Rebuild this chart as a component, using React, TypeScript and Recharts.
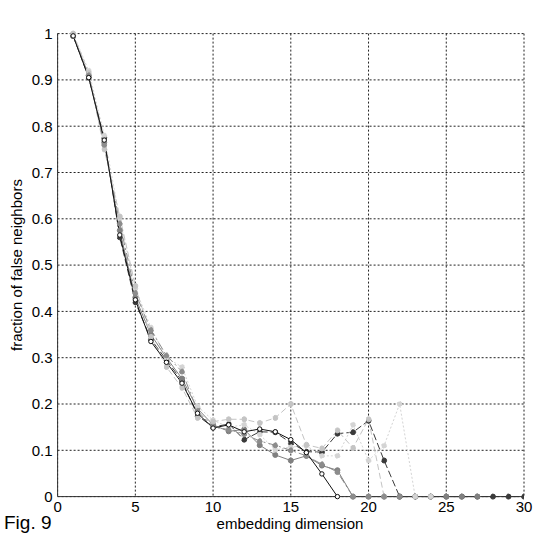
import React from 'react';
import { LineChart, Line, XAxis, YAxis, CartesianGrid, Label } from 'recharts';

const dims = [1, 2, 3, 4, 5, 6, 7, 8, 9, 10, 11, 12, 13, 14, 15, 16, 17, 18, 19, 20, 21, 22, 23, 24, 25, 26, 27, 28, 29, 30];
const xTicks = [0, 5, 10, 15, 20, 25, 30];
const yTicks = [0, 0.1, 0.2, 0.3, 0.4, 0.5, 0.6, 0.7, 0.8, 0.9, 1];

const seriesBlack = [0.995, 0.905, 0.77, 0.565, 0.425, 0.335, 0.29, 0.245, 0.18, 0.148, 0.155, 0.14, 0.146, 0.14, 0.123, 0.095, 0.049, 0];
const seriesDark = [0.995, 0.905, 0.775, 0.56, 0.42, 0.34, 0.295, 0.25, 0.175, 0.15, 0.157, 0.123, 0.14, 0.139, 0.116, 0.097, 0.096, 0.136, 0.139, 0.164, 0.078, 0, 0, 0, 0, 0, 0, 0, 0, 0];
const seriesGray = [0.995, 0.91, 0.765, 0.575, 0.43, 0.35, 0.3, 0.255, 0.19, 0.155, 0.141, 0.145, 0.111, 0.09, 0.078, 0.088, 0.067, 0.057, 0, 0, 0, 0, 0, 0, 0, 0, 0];
const seriesMid = [0.995, 0.91, 0.76, 0.59, 0.44, 0.36, 0.305, 0.27, 0.185, 0.15, 0.145, 0.135, 0.12, 0.111, 0.1, 0.088, 0.07, 0.053, 0, 0, 0, 0];
const seriesLight = [1.0, 0.915, 0.75, 0.605, 0.455, 0.345, 0.28, 0.235, 0.17, 0.162, 0.167, 0.167, 0.159, 0.17, 0.2, 0.112, 0.104, 0.143, 0.105, 0.167, 0];
const seriesPale = [1.0, 0.92, 0.78, 0.6, 0.45, 0.365, 0.3, 0.28, 0.195, 0.165, 0.15, 0.155, 0.134, 0.101, 0.107, 0.11, 0.088, 0.088, 0.155, 0.078, 0.11, 0.2, 0, 0];

const data = dims.map((d, i) => ({
  dim: d,
  black: i < seriesBlack.length ? seriesBlack[i] : null,
  dark: i < seriesDark.length ? seriesDark[i] : null,
  gray: i < seriesGray.length ? seriesGray[i] : null,
  mid: i < seriesMid.length ? seriesMid[i] : null,
  light: i < seriesLight.length ? seriesLight[i] : null,
  pale: i < seriesPale.length ? seriesPale[i] : null,
}));

const FONT = '"Liberation Sans", Arial, Helvetica, sans-serif';
const tickStyle = { fontSize: 15, fill: '#000', fontFamily: FONT };

export default function App() {
  return (
    <div style={{ position: 'absolute', left: 0, top: 0, width: 536, height: 536, background: '#fff' }}>
      <LineChart
        width={536}
        height={536}
        data={data}
        margin={{ top: 33.6, right: 12, bottom: 9.4, left: 12.6 }}
        style={{ fontFamily: FONT }}
      >
        <CartesianGrid strokeDasharray="2 2" stroke="#222" strokeWidth={1} />
        <XAxis
          dataKey="dim"
          type="number"
          domain={[0, 30]}
          ticks={xTicks}
          allowDataOverflow
          height={30}
          tickLine={false}
          tickSize={0}
          tickMargin={5}
          axisLine={{ stroke: '#333' }}
          tick={tickStyle}
        >
          <Label
            content={() => (
              <text x={290} y={529} textAnchor="middle" fontSize={15} fontFamily={FONT} fill="#000">
                embedding dimension
              </text>
            )}
          />
          <Label
            content={() => (
              <text x={4} y={529} textAnchor="start" fontSize={19} fontFamily={FONT} fill="#000">
                Fig. 9
              </text>
            )}
          />
        </XAxis>
        <XAxis
          xAxisId="top"
          orientation="top"
          type="number"
          domain={[0, 30]}
          ticks={xTicks}
          height={0}
          tick={false}
          tickLine={false}
          axisLine={{ stroke: '#333' }}
        >
          <Label
            content={() => (
              <text x={290} y={18} textAnchor="middle" fontSize={15} fontFamily={FONT} fill="#000">
                False Neighbors
              </text>
            )}
          />
        </XAxis>
        <YAxis
          type="number"
          domain={[0, 1]}
          ticks={yTicks}
          width={45}
          tickLine={false}
          tickSize={0}
          tickMargin={5}
          axisLine={{ stroke: '#333' }}
          tick={tickStyle}
          tickFormatter={(v: number) => String(Math.round(v * 10) / 10)}
        >
          <Label
            content={() => (
              <text
                x={22}
                y={265}
                textAnchor="middle"
                fontSize={15}
                fontFamily={FONT}
                fill="#000"
                transform="rotate(-90 22 265)"
              >
                fraction of false neighbors
              </text>
            )}
          />
        </YAxis>
        <YAxis
          yAxisId="right"
          orientation="right"
          type="number"
          domain={[0, 1]}
          width={0}
          tick={false}
          tickLine={false}
          axisLine={{ stroke: '#333' }}
        />
        <Line
          dataKey="dark"
          stroke="#3a3a3a"
          strokeWidth={1}
          strokeDasharray="7 3"
          dot={{ r: 2.5, fill: '#3a3a3a', stroke: '#3a3a3a' }}
          isAnimationActive={false}
        />
        <Line
          dataKey="gray"
          stroke="#808080"
          strokeWidth={1}
          dot={{ r: 2.5, fill: '#808080', stroke: '#808080' }}
          isAnimationActive={false}
        />
        <Line
          dataKey="pale"
          stroke="#d4d4d4"
          strokeWidth={1}
          strokeDasharray="2 2"
          dot={{ r: 2.5, fill: '#d4d4d4', stroke: '#d4d4d4' }}
          isAnimationActive={false}
        />
        <Line
          dataKey="light"
          stroke="#c4c4c4"
          strokeWidth={1}
          strokeDasharray="6 3"
          dot={{ r: 2.5, fill: '#c4c4c4', stroke: '#c4c4c4' }}
          isAnimationActive={false}
        />
        <Line
          dataKey="mid"
          stroke="#8c8c8c"
          strokeWidth={1}
          strokeDasharray="8 3 2 3"
          dot={{ r: 2.5, fill: '#8c8c8c', stroke: '#8c8c8c' }}
          isAnimationActive={false}
        />
        <Line
          dataKey="black"
          stroke="#111"
          strokeWidth={1}
          dot={{ r: 2.2, fill: '#fff', stroke: '#111' }}
          isAnimationActive={false}
        />
      </LineChart>
    </div>
  );
}
